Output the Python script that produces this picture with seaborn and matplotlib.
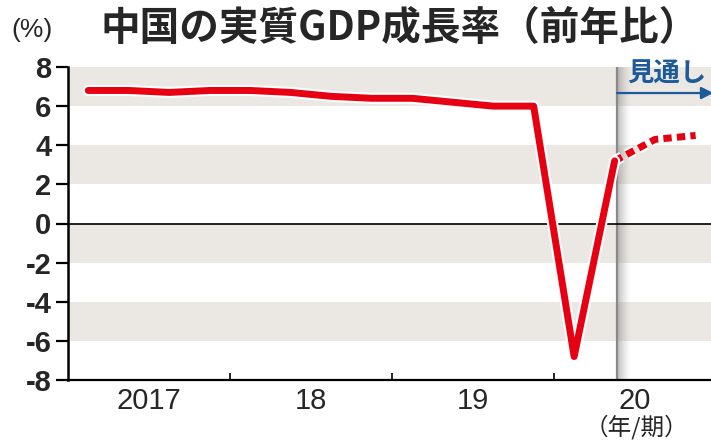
import matplotlib
matplotlib.use("Agg")
import matplotlib.pyplot as plt
import matplotlib.patheffects as pe
import numpy as np
import pandas as pd
import seaborn as sns

# ---- data ----
years = ["2017", "18", "19", "20"]
actual_q = ["2017Q1", "2017Q2", "2017Q3", "2017Q4",
            "2018Q1", "2018Q2", "2018Q3", "2018Q4",
            "2019Q1", "2019Q2", "2019Q3", "2019Q4",
            "2020Q1", "2020Q2"]
actual_vals = [6.8, 6.8, 6.7, 6.8,
               6.8, 6.7, 6.5, 6.4,
               6.4, 6.2, 6.0, 6.0,
               -6.8, 3.2]
forecast_q = ["2020Q2", "2020Q3", "2020Q4"]
forecast_vals = [3.2, 4.3, 4.5]
yticks = [8, 6, 4, 2, 0, -2, -4, -6, -8]


def qpos(label):
    y = int(label[:4]) - 2017
    q = int(label[-1])
    return y + (q - 0.5) / 4.0


df_a = pd.DataFrame({"x": [qpos(q) for q in actual_q], "v": actual_vals})
df_f = pd.DataFrame({"x": [qpos(q) for q in forecast_q], "v": forecast_vals})

sns.set_theme(style="white")
plt.rcParams["font.family"] = ["Liberation Sans", "Noto Sans CJK JP", "DejaVu Sans"]

fig = plt.figure(figsize=(7.11, 4.41), dpi=100)
ax = fig.add_axes([68 / 711, 1 - 380 / 441, (711 - 68) / 711, (380 - 67) / 441])
ax.set_facecolor("white")

ax.set_xlim(0, 3.97)
ax.set_ylim(-8, 8)

# bands
band = "#ebe7e3"
for lo, hi in [(6, 8), (2, 4), (-2, 0), (-6, -4)]:
    ax.axhspan(lo, hi, color=band, lw=0, zorder=0)

# forecast divider with shadow
xdiv = 3.39
nshade = 14
w = 0.085 / nshade
for i in range(nshade):
    a = 0.45 * (1 - i / nshade) ** 1.5
    ax.axvspan(xdiv + i * w, xdiv + (i + 1) * w, color="#6e6e6e", alpha=a, lw=0, zorder=1)
ax.axvline(xdiv, color="#8a8a8a", lw=1.6, zorder=1.5)

ax.axhline(0, color="black", lw=1.2, zorder=2)

red = "#e60012"
stroke = [pe.Stroke(linewidth=8, foreground="white"), pe.Normal()]
sns.lineplot(data=df_a, x="x", y="v", ax=ax, color=red, lw=5, zorder=5,
             solid_joinstyle="round", solid_capstyle="round", path_effects=stroke)
sns.lineplot(data=df_f, x="x", y="v", ax=ax, color=red, lw=5, zorder=4,
             dashes=False, linestyle=(0, (1.2, 0.75)), path_effects=stroke)

# axes styling
for s in ["top", "right"]:
    ax.spines[s].set_visible(False)
ax.spines["left"].set_color("black")
ax.spines["left"].set_linewidth(1.8)
ax.spines["bottom"].set_color("black")
ax.spines["bottom"].set_linewidth(1.6)
ax.spines["left"].set_zorder(6)
ax.spines["bottom"].set_zorder(6)

ax.set_yticks(yticks)
ax.set_yticklabels([str(t) for t in yticks], fontsize=21, fontweight="bold")
ax.tick_params(axis="y", direction="out", length=9, width=1.6, color="black", pad=3,
               left=True)

ax.set_xticks([1, 2, 3])
ax.set_xticklabels([])
ax.tick_params(axis="x", which="major", direction="in", length=5, width=1.2,
               color="black", bottom=True)
ax.set_xticks([0.5, 1.5, 2.5, 3.5], minor=True)
ax.set_xticklabels(years, minor=True, fontsize=21)
ax.tick_params(axis="x", which="minor", length=0, pad=5)
ax.set_xlabel("")
ax.set_ylabel("")
ax.grid(False)

# forecast label and arrow
blue = "#1d5a9a"
ax.text(3.45, 7.62, "見通し", color=blue, fontsize=19, fontweight="bold",
        ha="left", va="center", family=["Noto Sans CJK JP"], zorder=7, clip_on=False)
ax.annotate("", xy=(3.985, 6.67), xytext=(xdiv, 6.67),
            arrowprops=dict(arrowstyle="-|>,head_length=0.6,head_width=0.3",
                            color=blue, lw=1.6, shrinkA=0, shrinkB=0),
            annotation_clip=False, zorder=7)

# titles
fig.text(100 / 711, 1 - 28 / 441, "中国の実質GDP成長率（前年比）", fontsize=28.5,
         fontweight="bold", family=["Noto Sans CJK JP"], ha="left", va="center")
fig.text(32 / 711, 1 - 30 / 441, "(%)", fontsize=19, ha="center", va="center")
fig.text(636 / 711, 1 - 427 / 441, "（年/期）", fontsize=17,
         family=["Noto Sans CJK JP"], ha="center", va="center")

fig.savefig("out.png", dpi=100)
